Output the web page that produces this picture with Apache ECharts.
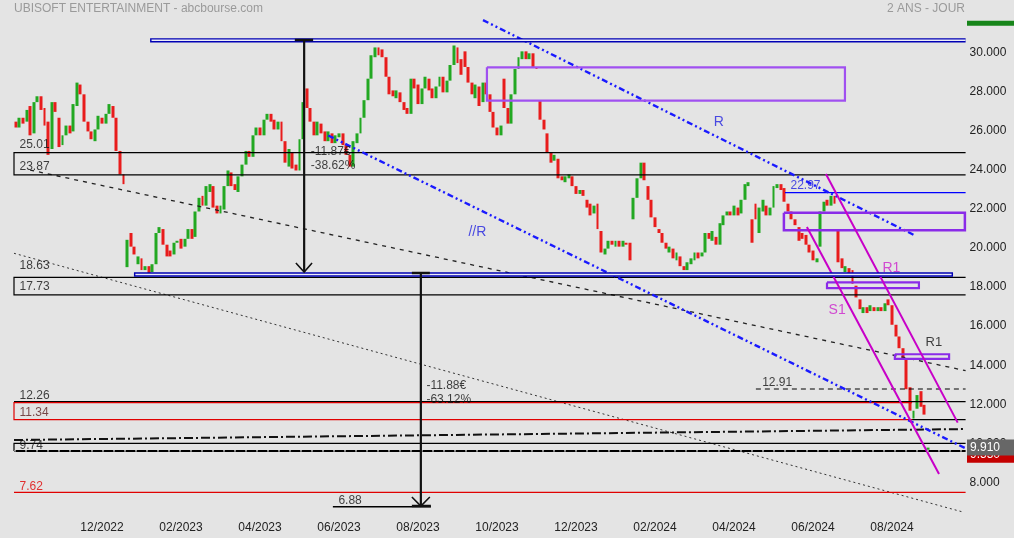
<!DOCTYPE html>
<html><head><meta charset="utf-8">
<script src="https://cdn.jsdelivr.net/npm/echarts@6/dist/echarts.min.js"></script>
<style>html,body{margin:0;padding:0;background:#e4e4e4;}#c{width:1014px;height:538px;}</style>
</head><body><div id="c"></div>
<script>
const FONT = "'Liberation Sans', Arial, sans-serif";
// [open, close, low, high] - one candle per 2 sessions
const candles = [
[26.6,26.3,25.9,26.9],[26.3,26.8,26.0,27.1],[26.8,26.5,26.1,27.0],[26.6,27.2,26.3,27.5],[27.4,25.9,25.6,27.7],
[26.0,27.6,25.8,28.4],[27.6,27.9,27.0,28.6],[27.9,27.2,26.8,28.5],[27.3,26.4,24.0,27.6],[26.6,24.9,24.7,26.9],
[25.2,27.6,25.0,28.0],[27.6,27.1,26.7,27.9],[26.8,25.3,24.8,27.0],[25.4,25.9,25.1,26.3],[25.9,26.4,25.6,26.7],
[26.4,26.0,25.8,26.8],[26.1,27.5,25.9,27.8],[27.4,28.6,27.2,28.9],[28.5,28.0,27.6,28.8],[28.0,26.6,26.3,28.2],
[26.6,26.1,25.7,26.9],[26.1,25.7,25.4,26.4],[25.6,26.2,25.4,26.5],[26.2,26.9,26.0,27.1],[26.8,26.5,26.2,27.3],
[26.5,27.0,26.2,27.3],[27.0,27.5,26.7,28.1],[27.4,26.8,26.5,28.1],[26.8,25.1,24.9,27.0],[25.1,23.9,23.5,25.2],
[23.9,23.4,23.0,24.0],[19.15,20.55,18.8,21.6],[20.9,20.2,20.0,21.1],[20.2,19.8,19.6,20.4],[19.3,19.7,19.1,19.9],
[19.6,19.0,18.9,19.8],[19.0,19.2,18.8,19.5],[19.2,18.8,18.1,19.4],[18.9,19.3,18.6,19.5],[19.3,20.9,19.2,21.1],
[20.9,21.2,20.6,21.8],[21.1,20.3,20.1,21.3],[20.3,19.7,19.5,20.5],[20.0,19.7,19.4,20.2],[19.8,20.4,19.6,20.6],
[20.4,20.5,20.1,20.9],[20.6,20.1,19.9,20.9],[20.2,20.6,20.0,20.9],[20.6,21.1,20.4,21.4],[21.1,20.6,20.4,21.3],
[20.7,22.0,20.5,22.2],[22.0,22.7,21.8,23.1],[22.8,22.3,22.0,23.0],[22.3,23.3,22.1,23.5],[23.0,23.4,22.6,23.7],
[23.3,22.2,22.0,23.5],[22.3,21.9,21.7,22.5],[21.9,22.3,21.7,22.6],[22.1,23.3,22.0,23.5],[23.3,24.1,23.1,24.6],
[24.0,23.3,23.1,24.2],[23.4,23.1,22.9,23.7],[23.0,23.8,22.8,24.0],[23.8,24.4,23.6,24.7],[24.4,25.1,24.2,25.4],
[25.1,24.8,24.4,25.6],[24.8,25.9,24.6,26.1],[25.9,26.3,25.6,26.6],[26.3,25.9,25.6,26.7],[25.9,26.7,25.7,27.0],
[26.7,27.0,26.4,27.3],[27.0,26.6,26.3,27.3],[26.7,26.2,25.9,27.0],[26.2,26.6,25.9,26.8],[26.6,25.6,25.4,26.8],
[25.6,24.5,24.2,25.8],[24.3,25.2,23.6,25.5],[25.0,24.2,24.0,25.3],[24.4,24.1,23.8,24.6],[24.1,25.7,23.9,25.9],
[25.7,27.6,25.5,27.8],[28.3,27.3,27.0,28.6],[27.3,26.6,26.3,27.6],[26.6,25.9,25.7,26.9],[25.9,26.6,25.7,26.9],
[26.5,26.0,25.7,26.8],[26.1,25.6,25.4,26.4],[25.6,26.1,25.4,26.3],[26.0,25.5,25.2,26.2],[25.5,25.9,25.3,26.1],
[25.8,26.0,25.6,26.3],[26.0,25.4,25.2,26.2],[25.4,24.9,24.6,25.6],[24.9,24.3,23.9,25.1],[24.3,25.6,24.1,25.8],
[25.5,26.0,25.3,26.3],[26.0,26.8,25.8,27.0],[26.8,27.7,26.6,28.0],[27.7,28.8,27.5,29.1],[28.8,30.0,28.6,30.6],
[29.9,30.4,29.6,30.8],[30.4,30.0,29.6,30.7],[30.3,29.9,29.6,30.6],[29.9,28.9,28.7,30.1],[28.9,28.0,27.8,29.1],
[28.2,27.9,27.6,28.5],[27.8,28.2,27.6,28.7],[28.1,27.6,27.3,28.4],[27.6,27.2,26.9,27.8],[27.3,27.0,26.8,27.5],
[27.0,28.8,26.9,29.3],[28.8,28.3,28.0,29.5],[28.5,27.5,27.1,28.9],[27.5,28.3,27.3,28.6],[28.3,28.9,28.0,29.3],
[28.8,28.2,28.0,29.0],[28.3,27.8,27.6,28.6],[27.8,28.4,27.5,28.6],[28.4,28.9,28.2,29.3],[28.9,28.1,27.7,29.1],
[28.1,28.7,27.9,29.0],[28.7,29.5,28.5,29.8],[29.5,30.5,29.3,31.6],[30.4,29.6,29.3,30.6],[29.8,29.0,28.7,30.3],
[30.2,29.4,29.1,30.9],[29.4,28.6,28.3,29.7],[28.6,28.0,27.8,28.9],[27.8,28.5,27.0,28.7],[28.4,27.4,27.1,28.7],
[27.6,28.6,27.4,28.8],[28.6,28.0,27.8,28.8],[28.0,27.1,26.9,28.2],[27.1,26.3,26.0,27.3],[26.3,25.9,25.2,26.5],
[25.9,26.4,24.9,26.6],[28.8,27.3,27.0,29.3],[27.3,26.5,26.2,27.5],[26.5,28.0,26.3,28.3],[28.0,29.3,27.8,29.5],
[29.3,29.9,29.0,30.2],[29.8,30.2,29.5,30.8],[30.2,29.8,29.5,30.5],[29.8,30.1,29.6,30.5],[30.1,29.4,29.2,30.3],
[29.4,29.3,29.0,29.6],[27.7,26.7,26.5,27.9],[26.7,26.2,25.2,26.9],[26.0,25.0,24.8,26.2],[25.0,24.5,24.3,25.2],
[24.6,24.9,24.4,25.1],[24.7,23.7,23.5,24.9],[23.8,23.6,23.3,24.0],[23.5,23.8,23.3,24.0],[23.7,23.9,23.4,24.4],
[23.8,23.3,22.3,24.0],[23.3,22.9,22.7,23.5],[22.9,23.1,22.6,23.4],[23.1,22.8,22.5,23.3],[22.6,22.2,22.0,22.8],
[22.4,21.8,21.6,22.6],[21.9,22.3,21.7,22.5],[22.4,21.1,20.9,22.6],[21.0,19.9,19.3,21.2],[19.8,20.1,19.6,20.3],
[20.1,20.5,19.9,21.1],[20.5,20.3,20.0,20.9],[20.2,20.5,20.0,20.8],[20.5,20.2,20.0,20.7],[20.2,20.5,20.0,20.9],
[20.4,20.3,20.0,20.8],[20.4,19.5,19.3,20.6],[21.6,22.7,21.5,22.9],[22.7,23.7,22.6,24.0],[23.7,24.5,23.5,24.7],
[24.5,23.6,23.4,24.7],[23.3,22.6,22.4,23.5],[22.6,21.7,21.5,22.8],[21.7,21.2,21.0,21.9],[21.1,20.9,20.7,21.3],
[20.9,20.4,20.2,21.1],[20.4,20.1,19.9,20.6],[19.9,20.2,19.6,20.4],[20.1,19.6,19.4,20.3],[19.5,19.9,19.3,20.1],
[19.7,19.2,18.6,19.9],[19.2,19.0,18.8,19.4],[19.0,19.4,18.8,19.6],[19.3,19.6,19.1,19.8],[19.5,19.9,19.3,20.1],
[19.9,19.6,19.4,20.1],[19.7,19.9,19.5,20.7],[19.9,20.9,19.8,21.1],[20.9,20.6,20.4,21.1],[20.5,21.0,20.3,21.2],
[20.7,20.3,19.6,20.9],[20.3,21.4,20.1,21.5],[21.3,21.8,21.1,22.0],[21.8,22.0,21.6,22.2],[22.0,21.8,21.5,22.2],
[21.8,22.3,21.7,22.5],[22.2,21.8,21.6,22.9],[21.9,22.6,21.7,22.8],[22.6,23.4,22.4,23.7],[23.3,23.5,23.0,23.8],
[21.6,20.4,19.7,22.0],[22.4,21.6,21.3,22.6],[20.9,22.2,20.8,22.4],[22.0,22.6,21.8,22.9],[22.3,21.8,21.6,22.5],
[21.8,22.2,21.6,22.4],[22.2,23.3,22.0,23.5],[23.2,23.4,22.9,23.6],[23.4,23.1,22.9,23.7],[23.2,22.5,22.3,23.5],
[22.4,22.0,21.8,22.6],[22.0,21.6,21.4,22.2],[21.6,21.3,21.1,21.8],[21.2,20.5,20.3,21.4],[20.9,20.6,20.5,21.1],
[20.8,20.3,20.1,21.0],[20.3,19.9,19.8,20.5],[20.0,19.5,19.3,20.2],[19.4,19.6,19.2,19.8],[20.2,22.0,20.0,22.2],
[22.0,22.5,21.8,22.8],[22.6,22.3,22.0,22.9],[22.3,22.8,22.0,23.1],[22.8,22.4,22.0,23.0],[21.1,19.4,19.3,21.3],
[19.6,19.1,18.9,19.8],[18.9,19.2,18.7,19.4],[19.1,18.8,18.6,19.2],[19.0,18.3,18.1,19.2],[18.2,17.6,17.4,18.3],
[17.5,17.0,16.8,17.6],[16.8,17.1,16.6,17.3],[17.1,16.8,16.6,17.3],[16.9,17.2,16.8,17.4],[17.1,16.9,16.8,17.2],
[16.9,17.1,16.8,17.3],[17.1,16.9,16.8,17.2],[16.9,17.3,16.8,17.9],[17.5,17.2,17.0,17.8],[17.2,16.2,16.0,17.4],
[16.2,15.6,15.4,16.4],[15.6,15.0,14.8,15.8],[15.0,14.4,14.2,15.2],[14.4,12.9,12.7,14.6],[13.0,11.8,11.5,13.2],
[11.4,11.8,11.2,12.0],[11.9,12.6,11.8,12.9],[12.8,12.0,11.9,13.0],[12.1,11.6,10.9,12.3],[9.8,9.91,9.75,10.2]
];
const slotCount = 265;
const categories = Array.from({length: slotCount}, (_, i) => String(i));
const xTickLabels = ['12/2022','02/2023','04/2023','06/2023','08/2023','10/2023','12/2023','02/2024','04/2024','06/2024','08/2024'];
const xTickAt = [24,46,68,90,112,134,156,178,200,222,244];
const yTicks = [8,10,12,14,16,18,20,22,24,26,28,30];
const lastPrice = 9.91;
const lowPrice = 9.55;

// annotation geometry in (slot index, price) units
const bandTop = [[37.4,30.765],[264.5,30.765]];
const bandTopInner = [[37.8,30.765],[264.5,30.765]];
const band18 = [[32.9,18.774],[261.0,18.774]];
const band18Inner = [[33.3,18.774],[260.6,18.774]];
const box2501 = [[264.5,25.01],[-0.5,25.01],[-0.5,23.87],[264.5,23.87]];
const box1773 = [[264.5,18.63],[-0.5,18.63],[-0.5,17.73],[264.5,17.73]];
const line1226 = [[-0.5,12.26],[264.5,12.26]];
const line1134 = [[249.6,11.34],[264.5,11.34]];
const redBox = [[249.6,12.21],[-0.5,12.21],[-0.5,11.34],[249.6,11.34]];
const box974 = [[264.5,10.13],[-0.5,10.13],[-0.5,9.74]];
const line974 = [[-0.5,9.74],[264.5,9.74]];
const line762 = [[-0.5,7.62],[264.5,7.62]];
const line688 = [[88.3,6.88],[115.6,6.88]];
const line1291 = [[206.1,12.91],[264.5,12.91]];
const line2297 = [[214.2,22.97],[264.5,22.97]];
const dashDot = [[-0.5,10.30],[264.5,10.86]];
const chanUp = [[225.6,23.92],[262.3,11.19]];
const chanDown = [[220.3,21.21],[257.1,8.56]];
const trendR = [[130.1,31.80],[250.1,20.80]];
const trendR2 = [[87.0,25.89],[264.3,9.89]];
const trendD1 = [[4.0,24.12],[264.5,13.85]];
const trendD2 = [[-0.5,19.86],[263.8,6.61]];
const arrow1 = [[80.3,30.78],[80.3,18.90]];
const cap1 = [[77.7,30.78],[82.8,30.78]];
const head1 = [[78.0,19.36],[80.3,18.90],[82.5,19.36]];
const arrow2 = [[112.8,18.85],[112.8,6.92]];
const cap2a = [[110.3,18.85],[115.3,18.85]];
const cap2b = [[110.3,6.92],[115.6,6.92]];
const head2 = [[110.3,7.38],[112.8,6.92],[115.3,7.38]];
const boxA = [[131.2,29.38],[230.9,29.38],[230.9,27.68],[131.2,27.68],[131.2,29.38]];
const boxB = [[213.9,21.94],[264.3,21.94],[264.3,21.04],[213.9,21.04],[213.9,21.94]];
const boxC = [[225.9,18.37],[251.5,18.37],[251.5,18.08],[225.9,18.08],[225.9,18.37]];
const boxD = [[244.8,14.69],[259.9,14.69],[259.9,14.45],[244.8,14.45],[244.8,14.69]];
const notes = [
 ['25.01',0.9,25.40,'#111',12],['23.87',0.9,24.28,'#111',12],['18.63',0.9,19.21,'#111',12],
 ['17.73',0.9,18.13,'#111',12],['12.26',0.9,12.55,'#111',12],['11.34',0.9,11.68,'#5a1e1e',12],
 ['9.74',0.9,10.02,'#111',12],['7.62',0.9,7.89,'#e00000',12],['6.88',89.7,7.18,'#111',12],
 ['12.91',207.7,13.24,'#111',12],['22.97',215.6,23.30,'#2020e0',12],
 ['-11.87€',82.0,25.05,'#111',12],['-38.62%',82.0,24.33,'#111',12],
 ['-11.88€',114.2,13.10,'#111',12],['-63.12%',114.2,12.35,'#111',12],
 ['R',194.2,26.58,'#2020e0',14],['//R',125.9,20.95,'#2020e0',14],
 ['R1',241.2,19.11,'#cc22cc',14],['S1',226.2,16.96,'#cc22cc',14],['R1',253.2,15.29,'#111',13]
];

const series = [];
series.push({
  type:'candlestick', xAxisIndex:0, yAxisIndex:0, z:1, barWidth:1, silent:true, animation:false,
  data: candles.map(c => [c[2], c[3], c[2], c[3]]),
  itemStyle:{color:'#6e6e6e', color0:'#6e6e6e', borderColor:'#6e6e6e', borderColor0:'#6e6e6e', borderWidth:0}
});
series.push({
  type:'candlestick', xAxisIndex:0, yAxisIndex:0, z:2, barWidth:3.4, silent:true, animation:false,
  data: candles.map(c => [c[0], c[1], Math.min(c[0],c[1]), Math.max(c[0],c[1])]),
  itemStyle:{color:'#22a822', color0:'#e81c1c', borderColor:'#22a822', borderColor0:'#e81c1c', borderWidth:0}
});
function seg(data, color, width, dash, z){
  series.push({type:'line', xAxisIndex:1, yAxisIndex:0, data, symbol:'none', silent:true, animation:false,
    z: z || 5, lineStyle:{color, width, type: dash || 'solid', cap:'butt', join:'miter'}});
}
seg(trendD2, '#333', 1, [2,3]);
seg(trendD1, '#222', 1.3, [4,5]);
seg(box2501, '#000', 1.2);
seg(box1773, '#000', 1.2);
seg(line1226, '#000', 1.2);
seg(line1134, '#000', 1.2);
seg(redBox, '#e00000', 1.2);
seg(box974, '#000', 1.2);
seg(line974, '#000', 2);
seg(line974, '#ffffff', 1, [2,9], 6);
seg(line762, '#e00000', 1.2);
seg(line688, '#000', 1.5);
seg(line1291, '#000', 1.2, [5,4]);
seg(line2297, '#0000ff', 1.2);
seg(dashDot, '#111', 2, [9,3,2,3]);
seg(trendR, '#1a1aff', 2.4, [6,3,2,3,2,3]);
seg(trendR2, '#1a1aff', 2.4, [6,3,2,3,2,3]);
seg(boxA, '#a050f0', 2.2);
seg(boxB, '#8a2be8', 2.5);
seg(boxC, '#8a2be8', 2.2);
seg(boxD, '#8a2be8', 2.2);
seg(chanUp, '#c800c8', 2);
seg(chanDown, '#c800c8', 2);
seg(bandTop, '#0000b4', 4.2, null, 7);
seg(bandTopInner, '#ececf8', 1.4, null, 8);
seg(band18, '#0000b4', 4.4, null, 7);
seg(band18Inner, '#ececf8', 1.4, null, 8);
seg(arrow1, '#111', 2.2, null, 9);
seg(cap1, '#111', 2.5, null, 9);
seg(head1, '#111', 1.6, null, 9);
seg(arrow2, '#111', 2.2, null, 9);
seg(cap2a, '#111', 2.5, null, 9);
seg(cap2b, '#111', 2.5, null, 9);
seg(head2, '#111', 1.6, null, 9);
series.push({
  type:'scatter', xAxisIndex:1, yAxisIndex:0, symbolSize:1, silent:true, animation:false, z:10,
  itemStyle:{color:'rgba(0,0,0,0)'},
  label:{show:true, position:'right', distance:0, fontFamily:FONT},
  data: notes.map(n => ({value:[n[1], n[2]], label:{formatter:n[0], color:n[3], fontSize:n[4]}}))
});

const yBase = {type:'value', position:'right', min:6.613, max:31.805,
  axisLine:{show:false}, axisTick:{show:false}, splitLine:{show:false}};
function priceTag(v, bg){
  return Object.assign({}, yBase, {
    axisLabel:{customValues:[v], formatter:(x) => x.toFixed(3), color:'#fff', backgroundColor:bg,
      padding:[3,14,1,3], fontSize:12, margin:1.4, verticalAlign:'middle', lineHeight:12, fontFamily:FONT}
  });
}

const chart = echarts.init(document.getElementById('c'), null, {renderer:'canvas'});
chart.setOption({
  backgroundColor:'#e4e4e4',
  animation:false,
  title:[
    {text:'UBISOFT ENTERTAINMENT - abcbourse.com', left:14, top:3, padding:0, textStyle:{fontSize:12, color:'#9a9a9a', fontWeight:'normal', fontFamily:FONT}},
    {text:'2 ANS - JOUR', right:49, top:3, padding:0, textStyle:{fontSize:12, color:'#9a9a9a', fontWeight:'normal', fontFamily:FONT}}
  ],
  graphic:[{type:'rect', shape:{x:967, y:20.7, width:47, height:5}, style:{fill:'#17851a'}, silent:true}],
  grid:{left:14, right:48.4, top:20, bottom:26, containLabel:false, outerBoundsMode:'none'},
  xAxis:[
    {type:'category', data:categories, boundaryGap:true, axisLine:{show:false}, axisTick:{show:false}, splitLine:{show:false},
     axisLabel:{interval:(i) => xTickAt.indexOf(i) >= 0, formatter:(v, i) => { const k = xTickAt.indexOf(i); return k >= 0 ? xTickLabels[k] : ''; },
       color:'#222', fontSize:12, margin:10, fontFamily:FONT}},
    {type:'value', min:-0.5, max:slotCount - 0.5, show:false}
  ],
  yAxis:[
    Object.assign({}, yBase, {axisLabel:{customValues:yTicks, formatter:(v) => v.toFixed(3), color:'#222', fontSize:12, margin:4,
      verticalAlign:'bottom', lineHeight:5, fontFamily:FONT}}),
    priceTag(lowPrice, '#c40000'),
    priceTag(lastPrice, '#676767')
  ],
  series
});
</script></body></html>
